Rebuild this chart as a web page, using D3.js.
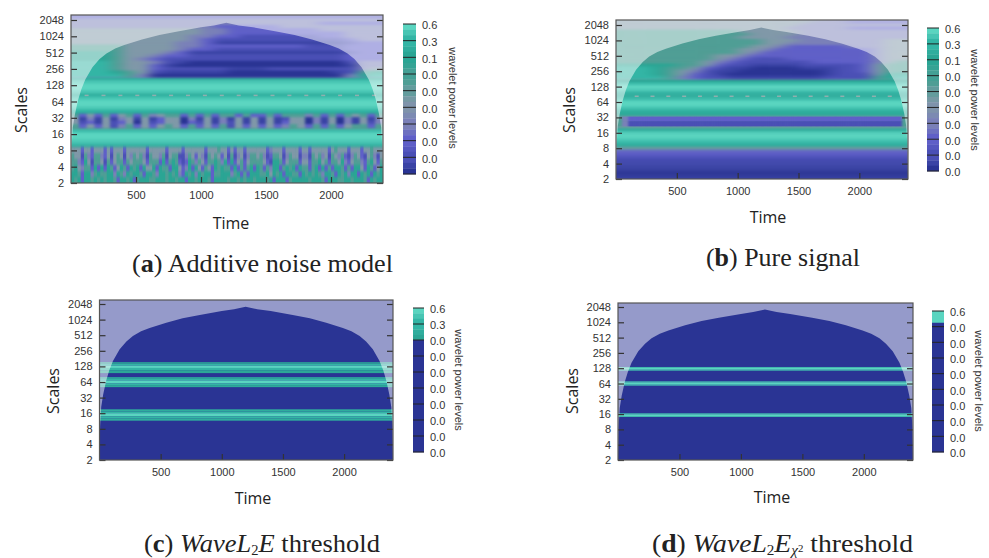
<!DOCTYPE html>
<html>
<head>
<meta charset="utf-8">
<title>Wavelet power spectra</title>
<script src="https://cdnjs.cloudflare.com/ajax/libs/d3/7.8.5/d3.min.js"></script>
<style>
  html, body { margin: 0; padding: 0; background: #fff; }
  svg { display: block; }
  .tick text { font-family: "Liberation Sans", Arial, sans-serif; font-size: 11px; fill: #333; }
  .key-label, .key-title { font-family: "Liberation Sans", Arial, sans-serif; font-size: 11px; fill: #333; }
  .axis-title { font-family: "Open Sans", sans-serif; font-size: 16px; fill: #222; }
  .caption { font-family: "Liberation Serif", serif; font-size: 25.5px; fill: #222; }
</style>
</head>
<body>
<svg id="chart" width="989" height="558"></svg>
<script>
var timeTicks = [500, 1000, 1500, 2000];
var scaleTicks = [2, 4, 8, 16, 32, 64, 128, 256, 512, 1024, 2048];

// power level index 0..9, bottom to top of the colour key
var palette = ["#2a3494", "#3a43a5", "#4a4fb5", "#5f5fc8", "#7a80b8", "#8098a8", "#4f9e95", "#2aa594", "#33b5a5", "#5ad5c0"];

// cone of influence, time against log2(scale)
var coneTime = [0, 3, 5, 14, 30, 55, 80, 110, 165, 220, 273, 340, 410, 546, 680, 820, 1000, 1100, 1195, 1290, 1400, 1580, 1720, 1854, 1990, 2060, 2127, 2180, 2235, 2290, 2320, 2345, 2370, 2386, 2395, 2397, 2400];
var coneLog = [1, 2.3, 3.14, 4.4, 5.2, 6.1, 6.75, 7.35, 8.1, 8.6, 8.95, 9.25, 9.46, 9.8, 10.08, 10.3, 10.55, 10.67, 10.83, 10.67, 10.55, 10.3, 10.08, 9.8, 9.46, 9.25, 8.95, 8.6, 8.1, 7.35, 6.75, 6.1, 5.2, 4.4, 3.14, 2.3, 1];

var keyLabelsAB = ["0.6", "0.3", "0.1", "0.0", "0.0", "0.0", "0.0", "0.0", "0.0", "0.0"];
var keyLabelsC = ["0.6", "0.3", "0.0", "0.0", "0.0", "0.0", "0.0", "0.0", "0.0", "0.0"];
var keyLabelsD = ["0.6", "0.0", "0.0", "0.0", "0.0", "0.0", "0.0", "0.0", "0.0", "0.0"];

var keyLevelsAB = [[9, 8.5, 8], [8, 7.5, 7], [7, 6.7, 6.3], [6.3, 6, 5.6], [5.6, 5.2, 4.8], [4.8, 4.4, 4], [4, 3.5, 3], [3, 2.5, 2], [2, 1, 0]];
var keyLevelsC = [[9, 8.5, 8], [8, 7.5, 7], [0], [0], [0], [0], [0], [0], [0]];
var keyLevelsD = [[9, 9, 9, 0], [0], [0], [0], [0], [0], [0], [0], [0]];

// rows from log2(scale) 11.4 down to 1.0, every 0.2
var baseA = [4, 4, 4, 4, 4, 4, 4, 4, 4, 4, 4, 4, 4, 4, 4, 4, 4, 4, 4, 4,
  7.5, 8.5, 9, 9, 8.5, 7.6, 8.5, 9, 9, 8.6, 7.8, 7.2, 5.5, 5.5, 5.5, 6, 8.2, 9, 9, 8.7, 8.2, 7.5, 7, 6, 6, 6, 6, 6, 6, 6, 6, 6, 6];
var baseB = [5, 5, 5, 5, 5, 5, 5, 5, 5, 5, 5, 5, 5, 5, 5, 5, 5, 5, 5, 5,
  7, 8.2, 9, 8.7, 7.8, 7.4, 8.2, 9, 9, 8.4, 7.6, 7.3, 5.5, 5.5, 5.5, 5.5, 7.3, 8.7, 9, 8.7, 8.2, 7.5, 5.5, 3.2, 2.8, 2.2, 1.6, 1.4, 1, 0.6, 0, 0.4, 1];

// time-varying part above the bands, log2(scale) 11.5 to 7.5, 100 time units per column
var ridgeA = [
  "444444444444444444444444",
  "333333333333333333333333",
  "444444444444444444444444",
  "444444444444444444433333",
  "444444444443333344444444",
  "555555555544333333344444",
  "555555555544333333333444",
  "555555555443322222233444",
  "555555555432222222222344",
  "555555554431111111111233",
  "666655554433333333222333",
  "666655554332222222222333",
  "777655543111111111111233",
  "777655433222222222222333",
  "777654322222222222222333",
  "888655421000000000000244",
  "888655310000000000000144",
  "888655322222111222222245",
  "888765211111000000001267",
  "888864000000000000000478"
];
var ridgeB = [
  "555555555555555554444444",
  "555555555555555544433333",
  "555555555555555444444444",
  "555555555555554444433333",
  "666666666655555444444444",
  "666666666665555444444444",
  "666666666655554444444444",
  "666666666666555444444455",
  "666666666666554444444455",
  "666666666665543333344455",
  "666666666655433333333455",
  "666666666654333333333455",
  "666666665543333333333455",
  "666666665432223333333455",
  "666666654322222233333456",
  "777776653221111222223566",
  "888766532110000111223566",
  "888765421100000001223566",
  "888765321000000001222577",
  "888864322111111112222678"
];

// blotches in panel a, log2(scale) 5.25 to 4.4
var speckleA = [
  "63536356 36456636 36366363 36366646 36365636",
  "51415145 15135504 15141515 15125504 15041514",
  "52315235 05235503 25142515 15135504 15041524",
  "63535246 35356536 35362535 35346536 36356636"
];

// streaks in panel a, log2(scale) 3.2 to 1
var noiseA = [
  "55535535 55353555 35555553 55555355 55355555 53555655 35355355 55553455 53555535 53555553 56555355 53556555",
  "65526436 64352565 25465642 65546256 62246535 42656535 26245246 65642366 52465524 42656452 65463246 53256425",
  "66437526 65263566 36566653 66637367 63237646 53667647 37356356 66653277 63566635 53667563 66574356 64367536",
  "67546637 37376357 63767375 57376637 75347375 36537676 63736367 37636477 36767376 63673736 37763637 75376357",
  "77637746 76677476 47677637 76477676 74376747 67736677 74673637 77667576 73776637 67676477 63767477 37673767",
  "76737767 67677637 76736777 66777677 67737767 77637777 67767677 67776737 77367777 76777637 77667767 77637677"
];

// long blue bar in panel b, log2(scale) 5.05 to 4.45
var barB = [
  "64333333 33333333 33333333 33333333 33333333 33333336",
  "64222222 22222222 22222222 22222222 22222222 22222226"
];

// small pale marks along the dip near scale 84
var dotTimesA = [120, 250, 380, 510, 640, 770, 900, 1030, 1160, 1290, 1420, 1550, 1680, 1810, 1940, 2070, 2200, 2330];
var dotTimesB = [170, 300, 430, 560, 690, 820, 950, 1080, 1210, 1340, 1470, 1600, 1730, 1860, 1990, 2120, 2250];

// thresholded bands: upper log2(scale), lower log2(scale), level
var bandsC = [
  [7.27, 7.17, 7.2], [7.17, 7.05, 8], [7.05, 6.9, 9], [6.9, 6.75, 8], [6.75, 6.57, 7.2],
  [6.31, 6.2, 7.5], [6.2, 6.1, 8], [6.1, 5.9, 9], [5.9, 5.8, 8], [5.8, 5.67, 7.3],
  [4.25, 4.1, 7.5], [4.1, 4, 8], [4, 3.8, 9], [3.8, 3.65, 8], [3.65, 3.52, 7.5]
];
var bandsD = [
  [7.08, 7.02, 8.4], [7.02, 6.9, 9], [6.9, 6.84, 8.4],
  [6.14, 6.08, 8.4], [6.08, 5.92, 9], [5.92, 5.86, 8.4],
  [4.05, 3.99, 8.4], [3.99, 3.87, 9], [3.87, 3.81, 8.4]
];
var flatRows = [0];

var panels = [
  {id: "a", left: 71, right: 383, top: 15, y2: 183, y2048: 20, key: [403, 416, 24, 174], keyLevels: keyLevelsAB, keyLabels: keyLabelsAB,
    keyTitle: [453, 98], scalesAt: [21, 110], timeAt: [231, 223], blur: 1,
    base: baseA, dots: dotTimesA,
    layers: [
      {rows: ridgeA, hi: 11.5, lo: 7.5, blur: "6 1.3"},
      {rows: speckleA, hi: 5.25, lo: 4.4, blur: "1.5 1"},
      {rows: noiseA, hi: 3.2, lo: 1, blur: "0.7 1.5"}
    ]},
  {id: "b", left: 616, right: 908, top: 20, y2: 179, y2048: 25, key: [927, 939, 28, 171], keyLevels: keyLevelsAB, keyLabels: keyLabelsAB,
    keyTitle: [975, 100], scalesAt: [569, 110], timeAt: [768, 217], blur: 1,
    base: baseB, dots: dotTimesB,
    layers: [
      {rows: ridgeB, hi: 11.5, lo: 7.5, blur: "7 1.2"},
      {rows: barB, hi: 5.05, lo: 4.45, blur: "1 0.6"}
    ]},
  {id: "c", left: 99.5, right: 393, top: 300, y2: 460, y2048: 304, key: [413, 424, 308, 452], keyLevels: keyLevelsC, keyLabels: keyLabelsC,
    keyTitle: [459, 380], scalesAt: [53, 391], timeAt: [253, 498], blur: 0.45,
    bands: bandsC, layers: []},
  {id: "d", left: 618, right: 913, top: 303, y2: 460, y2048: 307, key: [932, 944, 311, 452], keyLevels: keyLevelsD, keyLabels: keyLabelsD,
    keyTitle: [979, 381], scalesAt: [572, 391], timeAt: [772, 497], blur: 0.4,
    bands: bandsD, layers: []}
];

var svg = d3.select("#chart");
var defs = svg.append("defs");
var levelColor = d3.scaleLinear().domain(d3.range(10)).range(palette).clamp(true);

function blurFilter(name, amount) {
  var f = defs.append("filter").attr("id", name)
    .attr("filterUnits", "userSpaceOnUse").attr("x", 0).attr("y", 0).attr("width", 989).attr("height", 558)
    .attr("color-interpolation-filters", "sRGB");
  f.append("feGaussianBlur").attr("stdDeviation", amount);
  return "url(#" + name + ")";
}

function drawMatrix(g, layer, x, y) {
  var rows = layer.rows.map(function(r) { return r.replace(/ /g, ""); });
  var nCols = rows[0].length;
  var tStep = 2400 / nCols;
  var lStep = (layer.hi - layer.lo) / rows.length;
  var cells = [];
  rows.forEach(function(r, i) {
    r.split("").forEach(function(c, j) {
      cells.push({row: i, col: j, level: +c});
    });
  });
  g.selectAll("rect").data(cells).enter().append("rect")
    .attr("x", function(d) { return x(d.col * tStep) - (d.col === 0 ? 15 : 0); })
    .attr("width", function(d) { return x(tStep) - x(0) + 0.5 + (d.col === 0 || d.col === nCols - 1 ? 15 : 0); })
    .attr("y", function(d) { return y(Math.pow(2, layer.hi - d.row * lStep)); })
    .attr("height", function(d) { return y(Math.pow(2, layer.hi - (d.row + 1) * lStep)) - y(Math.pow(2, layer.hi - d.row * lStep)) + 0.5; })
    .attr("fill", function(d) { return levelColor(d.level); });
}

function drawPanel(p) {
  var x = d3.scaleLinear().domain([0, 2400]).range([p.left, p.right]);
  var y = d3.scaleLog().base(2).domain([2, 2048]).range([p.y2, p.y2048]);
  var clipId = "clip-" + p.id;

  defs.append("clipPath").attr("id", clipId).append("rect")
    .attr("x", p.left).attr("y", p.top).attr("width", p.right - p.left).attr("height", p.y2 - p.top);

  var g = svg.append("g").attr("class", "panel-" + p.id);
  var plot = g.append("g").attr("clip-path", "url(#" + clipId + ")");

  // flat background by scale
  var base = plot.append("g").attr("filter", blurFilter("blur-base-" + p.id, "0 " + p.blur));
  if(p.base) {
    base.selectAll("rect").data(p.base).enter().append("rect")
      .attr("x", p.left - 10).attr("width", p.right - p.left + 20)
      .attr("y", function(d, i) { return y(Math.pow(2, 11.5 - i * 0.2)) - (i === 0 ? 20 : 0); })
      .attr("height", function(d, i) {
        return y(Math.pow(2, 11.3 - i * 0.2)) - y(Math.pow(2, 11.5 - i * 0.2)) + 0.5 + (i === 0 || i === p.base.length - 1 ? 20 : 0);
      })
      .attr("fill", function(d) { return levelColor(d); });
  } else {
    base.selectAll("rect").data(flatRows).enter().append("rect")
      .attr("x", p.left - 10).attr("width", p.right - p.left + 20)
      .attr("y", p.top - 10).attr("height", p.y2 - p.top + 20)
      .attr("fill", function(d) { return levelColor(d); });
    base.selectAll("rect.band").data(p.bands).enter().append("rect").attr("class", "band")
      .attr("x", p.left - 10).attr("width", p.right - p.left + 20)
      .attr("y", function(d) { return y(Math.pow(2, d[0])); })
      .attr("height", function(d) { return y(Math.pow(2, d[1])) - y(Math.pow(2, d[0])); })
      .attr("fill", function(d) { return levelColor(d[2]); });
  }

  p.layers.forEach(function(layer, i) {
    var lg = plot.append("g").attr("filter", blurFilter("blur-" + p.id + i, layer.blur));
    drawMatrix(lg, layer, x, y);
  });

  if(p.dots) {
    plot.selectAll("rect.dot").data(p.dots).enter().append("rect").attr("class", "dot")
      .attr("x", function(d) { return x(d) - 2; }).attr("width", 4)
      .attr("y", y(Math.pow(2, 6.42))).attr("height", 1.5)
      .attr("fill", "#8fb0ae");
  }

  // outside the cone of influence everything is washed out
  var conePoints = coneTime.map(function(t, i) { return [t, coneLog[i]]; });
  var coneArea = d3.area()
    .x(function(d) { return x(d[0]); })
    .y0(p.top - 5)
    .y1(function(d) { return y(Math.pow(2, d[1])); });
  plot.append("path").datum(conePoints).attr("d", coneArea)
    .attr("fill", "#fff").attr("fill-opacity", 0.5);

  // axes
  var ax = g.append("g").attr("transform", "translate(0," + p.y2 + ")")
    .call(d3.axisBottom(x).tickValues(timeTicks).tickSize(-6).tickPadding(8).tickFormat(d3.format("d")));
  ax.select(".domain").remove();
  ax.selectAll(".tick line").attr("stroke", "#333").attr("stroke-width", 1.2);

  var ay = g.append("g").attr("transform", "translate(" + p.left + ",0)")
    .call(d3.axisLeft(y).tickValues(scaleTicks).tickSize(-6).tickPadding(7).tickFormat(d3.format("d")));
  ay.select(".domain").remove();
  ay.selectAll(".tick line").attr("stroke", "#333").attr("stroke-width", 1.2);

  var ar = g.append("g").attr("transform", "translate(" + p.right + ",0)")
    .call(d3.axisRight(y).tickValues(scaleTicks).tickSize(-6).tickFormat(""));
  ar.select(".domain").remove();
  ar.selectAll(".tick line").attr("stroke", "#333").attr("stroke-width", 1.2);

  g.append("rect").attr("x", p.left).attr("y", p.top)
    .attr("width", p.right - p.left).attr("height", p.y2 - p.top)
    .attr("fill", "none").attr("stroke", "#555").attr("stroke-width", 1.2);

  g.append("text").attr("class", "axis-title")
    .attr("transform", "translate(" + p.scalesAt[0] + "," + p.scalesAt[1] + ") rotate(-90)")
    .attr("text-anchor", "middle").attr("dy", "0.35em").text("Scales");
  g.append("text").attr("class", "axis-title")
    .attr("x", p.timeAt[0]).attr("y", p.timeAt[1])
    .attr("text-anchor", "middle").attr("dy", "0.35em").text("Time");

  drawKey(g, p);
}

function drawKey(g, p) {
  var k = p.key;
  var keyY = d3.scaleLinear().domain([0, 9]).range([k[2], k[3]]);
  var slices = [];
  p.keyLevels.forEach(function(levels, i) {
    levels.forEach(function(level, j) {
      slices.push({y0: i + j / levels.length, y1: i + (j + 1) / levels.length, level: level});
    });
  });
  g.append("g").selectAll("rect").data(slices).enter().append("rect")
    .attr("x", k[0]).attr("width", k[1] - k[0])
    .attr("y", function(d) { return keyY(d.y0); })
    .attr("height", function(d) { return keyY(d.y1) - keyY(d.y0) + 0.3; })
    .attr("fill", function(d) { return levelColor(d.level); });

  g.append("g").selectAll("line").data(p.keyLabels).enter().append("line")
    .attr("x1", k[0]).attr("x2", k[1])
    .attr("y1", function(d, i) { return keyY(i); })
    .attr("y2", function(d, i) { return keyY(i); })
    .attr("stroke", "#222").attr("stroke-width", 1);

  g.append("g").selectAll("text").data(p.keyLabels).enter().append("text")
    .attr("class", "key-label")
    .attr("x", k[1] + 6)
    .attr("y", function(d, i) { return keyY(i) + 1.5; })
    .attr("dy", "0.35em").text(function(d) { return d; });

  g.append("text").attr("class", "key-title")
    .attr("transform", "translate(" + p.keyTitle[0] + "," + p.keyTitle[1] + ") rotate(90)")
    .attr("text-anchor", "middle").attr("dy", "0.35em").text("wavelet power levels");
}

panels.forEach(drawPanel);

// captions
function caption(xPos, yPos, len, parts) {
  var t = svg.append("text").attr("class", "caption").attr("x", xPos).attr("y", yPos)
    .attr("textLength", len).attr("lengthAdjust", "spacingAndGlyphs");
  parts.forEach(function(part) {
    var s = t.append("tspan").text(part.t);
    if(part.b) s.attr("font-weight", "bold");
    if(part.i) s.attr("font-style", "italic");
    if(part.size) s.attr("font-size", part.size);
    if(part.sub) s.attr("dy", part.sub);
  });
}

caption(132, 272, 261, [{t: "("}, {t: "a", b: 1}, {t: ") Additive noise model"}]);
caption(706, 266, 154, [{t: "("}, {t: "b", b: 1}, {t: ") Pure signal"}]);
caption(144, 551.5, 236, [{t: "("}, {t: "c", b: 1}, {t: ") "}, {t: "WaveL", i: 1}, {t: "2", sub: "3", size: "14px"}, {t: "E", i: 1, sub: "-3", size: "25.5px"}, {t: " threshold"}]);
caption(652, 551.5, 261, [{t: "("}, {t: "d", b: 1}, {t: ") "}, {t: "WaveL", i: 1}, {t: "2", sub: "3", size: "14px"}, {t: "E", i: 1, sub: "-3", size: "25.5px"}, {t: "\u03c7", i: 1, sub: "3", size: "14px"}, {t: "2", sub: "-3", size: "10px"}, {t: " threshold", size: "25.5px"}]);
</script>
</body>
</html>
